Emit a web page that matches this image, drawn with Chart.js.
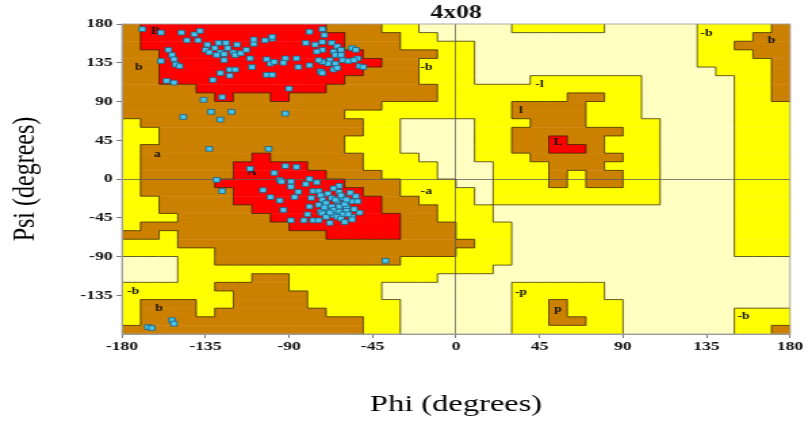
<!DOCTYPE html>
<html>
<head>
<meta charset="utf-8">
<script src="https://cdn.jsdelivr.net/npm/chart.js@4.4.1/dist/chart.umd.min.js"></script>
<style>
  html, body { margin: 0; padding: 0; background: #fff; overflow: hidden; }
  #rama { display: block; width: 812px !important; height: 422px !important; }
</style>
</head>
<body>
<canvas id="rama" width="600" height="422" style="width:812px;height:422px"></canvas>
<script>
// the reference picture is stretched sideways, so the canvas is drawn narrow and widened by css
const STRETCH = 812 / 600;

const chartTitle = '4x08';
const xTitle = 'Phi (degrees)';
const yTitle = 'Psi (degrees)';
const xTicks = [-180, -135, -90, -45, 0, 45, 90, 135, 180];
const yTicks = [180, 135, 90, 45, 0, -45, -90, -135];

// 10 degree cells, first row is psi 170..180, first column is phi -180..-170
// r = core, b = allowed, y = generous, . = disallowed
const regionRows = [
  'brrrrrrrrrrbbbyy.....yyyyy.....yyyyb',
  'brrrrrrrrrrrbbbyy..............yyybb',
  'brrrrrrrrrrrbbbyyyy............yybbb',
  'bbrrrrrrrrrrrbbbbyy............yyybb',
  'bbrrrrrrrrrrrrbbyyy............yyyyb',
  'bbrrrrrrrrrrrbbbyyy.............yyyb',
  'bbrrrrrrrrrrbbbbyyy...yyyyyy.....yyb',
  'bbbbrrrrrrrbbbbbbyyyyyyyyyyy.....yyb',
  'bbbbbrbbrbbbbbbbbyyyyyyybbyy.....yyb',
  'bbbbbbbbbbbbbbyyyyyyybbbbyyy.....yyy',
  'bbbbbbbbbbbbyyyyyyyyybbbbyyy.....yyy',
  'ybbbbbbbbbbbbyy....yyybbbyyyy....yyy',
  'yybbbbbbbbbbbyy....yybbbbbbyy....yyy',
  'yybbbbbbbbbbyyy....yybbrbbyyy....yyy',
  'ybbbbbbbbbbbyyy....yybbrrbyyy....yyy',
  'ybbbbbbrbbbbbyyy...yyybbbbbyy....yyy',
  'ybbbbbrrrrbbbyyyy...yyybbbyyy....yyy',
  'ybbbbbrrrrrbbbyyy...yyybybbyy....yyy',
  'ybbbbrrrrrrrbbbyyy..yyybybbyy....yyy',
  'ybbbbbrrrrrrrbbyyyy.yyyyyyyyy....yyy',
  'yybbbbrrrrrrrrbbyyy.yyyyyyyyy....yyy',
  'yybbbbbrrrrrrrbbbyyy.............yyy',
  'yyybbbbbrrrrrrrbbyyy.............yyy',
  'ybbbbbbbbrrrrrrbbbyyy............yyy',
  'bbybbbbbbbbrrrrbbbyyy............yyy',
  'yyybbbbbbbbbbbbbbbbyy............yyy',
  'yyyyybbbbbbbbbbbbbyyy............yyy',
  '...yybbbbbbbbbbyyyyyy...............',
  '...yyyyyyyyyyyyyyyyy................',
  '...yyyybbyyyyyyyy...................',
  'yyyyybbbbyyyyy.......yyyyy..........',
  'yyyyyybbbbyyyy.......yyyyy..........',
  'ybbbyybbbbyyyyy......yybyyy.........',
  'ybbbybbbbbbyyyy......yybyyy......yyy',
  'ybbbbbbbbbbbbyy......yybbyy......yyy',
  'bbbbbbbbbbbbbyy......yyyyyy......yyb'
];
const regionColours = { '.': '#FFFFC2', y: '#FFFF00', b: '#CC8000', r: '#FF0000' };

const labelText = ['B', 'b', 'a', 'A', '-b', '-l', 'l', 'L', '-a', '-p', 'p', '-b', 'b', '-b', 'b', '-b'];
const labelPhi = [-162, -171, -161, -110, -16, 45, 35, 55, -16, 35, 55, 135, 170, -174, -160, 155];
const labelPsi = [171, 129, 28, 8, 130, 110, 80, 43, -15, -132, -152, 169, 161, -131, -150, -160];

// residues
const phiPts = [
  -169, -159, -148, -141, -138, -145, -139, -155, -153, -152, -159, -151, -149, -134, -128, -124, -118, -123, -130, -135,
  -133, -127, -129, -125, -120, -119, -116, -113, -109, -109, -103, -99, -111, -102, -100, -110, -102, -125, -122, -119,
  -127, -122, -131, -156, -152, -136, -126, -132, -121, -147, -127,
  -99, -79, -72, -71, -81, -76, -72, -67, -64, -62, -66, -72, -75, -65, -62, -56, -54, -53, -61, -58,
  -55, -68, -65, -69, -72, -74, -79, -86, -92, -98, -93, -85, -73, -72, -52, -50, -66, -64, -90, -92, -99,
  -133, -101, -111, -92, -86, -98, -129, -126, -95, -94, -89, -79, -81, -75, -104, -89, -85, -77, -74, -63,
  -66, -63, -69, -73, -100, -95, -87, -78, -72, -67, -61, -54, -56, -53, -64, -70, -74, -79, -67, -63,
  -59, -66, -70, -73, -63, -59, -93, -80, -66, -61, -52, -56, -64, -72, -89, -82, -77, -74, -56, -68, -38,
  -60, -65, -58, -62, -55, -70, -62, -57, -68, -71, -60, -59,
  -153, -152, -166, -164
];
const psiPts = [
  174, 170, 170, 168, 172, 161, 161, 150, 144, 139, 137, 133, 131, 156, 158, 158, 156, 152, 152, 150,
  147, 147, 144, 145, 147, 144, 146, 150, 157, 162, 161, 163, 140, 139, 134, 130, 121, 138, 127, 127,
  123, 120, 115, 114, 112, 92, 95, 78, 78, 72, 69,
  165, 171, 174, 167, 158, 156, 159, 158, 154, 150, 148, 150, 148, 144, 144, 152, 150, 140, 138, 137,
  138, 138, 134, 134, 136, 138, 132, 140, 140, 136, 135, 130, 125, 123, 131, 130, 127, 129, 105, 76, 121,
  35, 35, 12, 15, 14, 7, -1, -14, -1, -3, -3, 0, -6, -4, -13, -9, -15, -14, -14, -8,
  -11, -15, -17, -19, -21, -25, -21, -22, -24, -22, -22, -20, -26, -26, -26, -28, -30, -32, -32, -32,
  -32, -36, -37, -38, -38, -37, -36, -41, -42, -41, -39, -44, -44, -40, -48, -48, -48, -48, -47, -51, -95,
  -29, -24, -41, -46, -35, -44, -19, -16, -39, -33, -50, -24,
  -164, -168, -172, -173
];

const serif = "'Liberation Serif', 'DejaVu Serif', serif";

const regionPlugin = {
  id: 'regions',
  beforeDraw(chart) {
    const { ctx, scales: { x, y } } = chart;
    ctx.save();
    regionRows.forEach((row, j) => {
      const top = y.getPixelForValue(180 - 10 * j);
      const bot = y.getPixelForValue(170 - 10 * j);
      let k = 0;
      while (k < row.length) {
        let e = k;
        while (e + 1 < row.length && row[e + 1] === row[k]) e++;
        const l = x.getPixelForValue(-180 + 10 * k);
        const r = x.getPixelForValue(-170 + 10 * e);
        ctx.fillStyle = regionColours[row[k]];
        ctx.fillRect(l, top, r - l + 0.4, bot - top + 0.4);
        k = e + 1;
      }
    });
    // dark edges between different regions
    ctx.strokeStyle = 'rgba(40,25,0,0.7)';
    ctx.lineWidth = 1;
    ctx.beginPath();
    regionRows.forEach((row, j) => {
      const top = y.getPixelForValue(180 - 10 * j);
      const bot = y.getPixelForValue(170 - 10 * j);
      for (let k = 0; k < row.length - 1; k++) {
        if (row[k] !== row[k + 1]) {
          const px = x.getPixelForValue(-170 + 10 * k);
          ctx.moveTo(px, top);
          ctx.lineTo(px, bot);
        }
      }
      if (j < regionRows.length - 1) {
        const next = regionRows[j + 1];
        for (let k = 0; k < row.length; k++) {
          if (row[k] !== next[k]) {
            ctx.moveTo(x.getPixelForValue(-180 + 10 * k), bot);
            ctx.lineTo(x.getPixelForValue(-170 + 10 * k), bot);
          }
        }
      }
    });
    ctx.stroke();
    ctx.restore();
  },
  beforeDatasetsDraw(chart) {
    const { ctx, chartArea: a, scales: { x, y } } = chart;
    ctx.save();
    ctx.strokeStyle = 'rgba(160,160,160,0.9)';
    ctx.lineWidth = 1;
    ctx.strokeRect(a.left, a.top, a.right - a.left, a.bottom - a.top);
    ctx.fillStyle = '#111';
    ctx.font = 'bold 10px ' + serif;
    ctx.textAlign = 'center';
    ctx.textBaseline = 'middle';
    labelText.forEach((t, i) => {
      ctx.fillText(t, x.getPixelForValue(labelPhi[i]), y.getPixelForValue(labelPsi[i]));
    });
    ctx.restore();
  }
};

const zeroLine = (c) => c.tick && c.tick.value === 0 ? 'rgba(90,90,90,0.75)' : 'rgba(0,0,0,0)';

new Chart(document.getElementById('rama'), {
  type: 'scatter',
  data: {
    datasets: [{
      data: phiPts.map((p, i) => ({ x: p, y: psiPts[i] })),
      pointStyle: 'rect',
      pointRadius: 3.4,
      backgroundColor: '#45c4ec',
      borderColor: '#1f5f82',
      borderWidth: 0.8
    }]
  },
  options: {
    responsive: false,
    animation: false,
    events: [],
    layout: { padding: { left: 0, right: (812 - 790) / STRETCH, top: 0, bottom: 0 } },
    plugins: {
      legend: { display: false },
      tooltip: { enabled: false },
      title: {
        display: true,
        text: chartTitle,
        fullSize: false,
        color: '#111',
        font: { family: serif, size: 19, weight: 'bold' },
        padding: { top: 1.2, bottom: 0 }
      }
    },
    scales: {
      x: {
        type: 'linear',
        min: -180,
        max: 180,
        afterBuildTicks: (s) => { s.ticks = xTicks.map(v => ({ value: v })); },
        afterFit: (s) => { s.height = 88; },
        ticks: {
          autoSkip: false,
          maxRotation: 0,
          padding: 1,
          color: '#111',
          font: { family: serif, size: 13, weight: 'bold' }
        },
        grid: { color: zeroLine, tickColor: '#777', tickLength: 4 },
        border: { color: '#999' },
        title: {
          display: true,
          text: xTitle,
          color: '#000',
          font: { family: serif, size: 24 },
          padding: { top: 0, bottom: 2.6 }
        }
      },
      y: {
        type: 'linear',
        min: -180,
        max: 180,
        afterBuildTicks: (s) => { s.ticks = yTicks.map(v => ({ value: v })); },
        afterFit: (s) => { s.width = 122 / STRETCH; },
        ticks: {
          padding: 3,
          color: '#111',
          font: { family: serif, size: 13, weight: 'bold' }
        },
        grid: { color: zeroLine, tickColor: '#777', tickLength: 4 },
        border: { color: '#999' },
        title: {
          display: true,
          text: yTitle,
          color: '#000',
          font: { family: serif, size: 24 },
          padding: { top: 4.1, bottom: 0 }
        }
      }
    }
  },
  plugins: [regionPlugin]
});
</script>
</body>
</html>
